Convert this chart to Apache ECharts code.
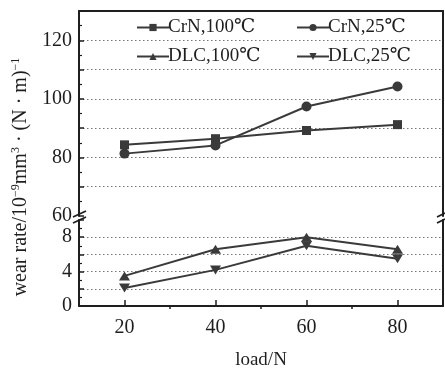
<!DOCTYPE html>
<html>
<head>
<meta charset="utf-8">
<script src="https://cdn.jsdelivr.net/npm/echarts@6/dist/echarts.min.js"></script>
<style>
  html, body { margin: 0; padding: 0; background: #fff; }
  #chart { width: 445px; height: 371px; }
</style>
</head>
<body>
<div id="chart"></div>
<script>
const loads = [20, 40, 60, 80]
const crn100 = [84.3, 86.4, 89.2, 91.2]
const crn25 = [81.3, 84.1, 97.4, 104.2]
const dlc100 = [3.5, 6.6, 8.0, 6.6]
const dlc25 = [2.1, 4.2, 7.0, 5.5]
const upperLabels = [60, 80, 100, 120]
const lowerLabels = [0, 4, 8]

const ink = '#1e1e1e'
const lineColor = '#3a3a3a'
const font = '"Liberation Serif", "DejaVu Serif", serif'
const downTriangle = 'path://M0,0L12,0L6,10Z'

const pairs = (ys) => loads.map((x, i) => [x, ys[i]])

const dom = document.getElementById('chart')
const myChart = echarts.init(dom)

const axisLine = { show: true, lineStyle: { color: ink, width: 2 } }
const tickStyle = { show: true, inside: true, length: 5, lineStyle: { color: ink, width: 1.5 } }
const minorStyle = { show: true, splitNumber: 2, length: 3, lineStyle: { color: ink, width: 1.2 } }
const gridLine = {
  show: true, showMinLine: false, showMaxLine: false,
  lineStyle: { color: '#777', type: [1.5, 2.5], width: 1 }
}
const tickLabel = (vals) => ({
  show: true, customValues: vals, color: ink, fontFamily: font, fontSize: 20, margin: 7
})

const series = (name, data, symbol, size, xi) => ({
  name, type: 'line', data: pairs(data),
  xAxisIndex: xi, yAxisIndex: xi * 2,
  symbol, symbolSize: size,
  lineStyle: { color: lineColor, width: 2 },
  itemStyle: { color: lineColor },
  z: 5
})

const option = {
  animation: false,
  textStyle: { fontFamily: font },
  grid: [
    { left: 79, right: 2, top: 11, height: 205, outerBoundsMode: 'none', containLabel: false },
    { left: 79, right: 2, top: 220, height: 86, outerBoundsMode: 'none', containLabel: false }
  ],
  legend: {
    left: 136, top: 18, width: 330, padding: 0,
    itemWidth: 32, itemHeight: 9, itemGap: 10,
    textStyle: { color: ink, fontFamily: font, fontSize: 19, width: 118, lineHeight: 18, padding: [0, 0, 0, -6] },
    data: ['CrN,100℃', 'CrN,25℃', 'DLC,100℃', 'DLC,25℃']
  },
  xAxis: [
    {
      gridIndex: 0, type: 'value', min: 10, max: 90, interval: 10, position: 'top',
      axisLine, axisTick: { show: false }, axisLabel: { show: false }, splitLine: { show: false }
    },
    {
      gridIndex: 1, type: 'value', min: 10, max: 90, interval: 10,
      name: 'load/N', nameLocation: 'middle', nameGap: 45,
      nameTextStyle: { color: ink, fontFamily: font, fontSize: 19 },
      axisLine,
      axisTick: { ...tickStyle, length: 6, customValues: loads },
      axisLabel: { ...tickLabel(loads), margin: 12 },
      splitLine: { show: false }
    },
    {
      gridIndex: 1, type: 'value', min: 10, max: 90, interval: 10,
      axisLine: { show: false },
      axisTick: { ...tickStyle, length: 3, customValues: [30, 50, 70] },
      axisLabel: { show: false }, splitLine: { show: false }
    }
  ],
  yAxis: [
    {
      gridIndex: 0, type: 'value', min: 60, max: 130, interval: 10,
      axisLine, axisTick: tickStyle, minorTick: minorStyle,
      axisLabel: tickLabel(upperLabels), splitLine: gridLine
    },
    {
      gridIndex: 0, type: 'value', min: 60, max: 130, interval: 10, position: 'right',
      axisLine, axisTick: { show: false }, axisLabel: { show: false }, splitLine: { show: false }
    },
    {
      gridIndex: 1, type: 'value', min: 0, max: 10, interval: 2,
      axisLine, axisTick: tickStyle, minorTick: minorStyle,
      axisLabel: tickLabel(lowerLabels), splitLine: gridLine
    },
    {
      gridIndex: 1, type: 'value', min: 0, max: 10, interval: 2, position: 'right',
      axisLine, axisTick: { show: false }, axisLabel: { show: false }, splitLine: { show: false }
    }
  ],
  series: [
    series('CrN,100℃', crn100, 'rect', 9, 0),
    series('CrN,25℃', crn25, 'circle', 10, 0),
    series('DLC,100℃', dlc100, 'triangle', [11, 9], 1),
    series('DLC,25℃', dlc25, downTriangle, [11, 9], 1)
  ],
  graphic: [
    // axis break marks
    { type: 'line', shape: { x1: 73, y1: 217, x2: 86, y2: 211 }, style: { stroke: ink, lineWidth: 1.8 } },
    { type: 'line', shape: { x1: 73, y1: 223, x2: 86, y2: 217 }, style: { stroke: ink, lineWidth: 1.8 } },
    { type: 'line', shape: { x1: 437, y1: 217, x2: 445, y2: 213 }, style: { stroke: ink, lineWidth: 1.8 } },
    { type: 'line', shape: { x1: 437, y1: 223, x2: 445, y2: 219 }, style: { stroke: ink, lineWidth: 1.8 } },
    {
      type: 'text', x: 21, y: 177, rotation: Math.PI / 2,
      style: {
        text: 'wear rate/10{sup|−9}mm{sup|3} · (N · m){sup|−1}',
        fill: ink, fontFamily: font, fontSize: 20,
        align: 'center', verticalAlign: 'middle',
        rich: { sup: { fontSize: 12, fontFamily: font, fill: ink, verticalAlign: 'top', lineHeight: 22 } }
      }
    }
  ]
}

myChart.setOption(option)
</script>
</body>
</html>
